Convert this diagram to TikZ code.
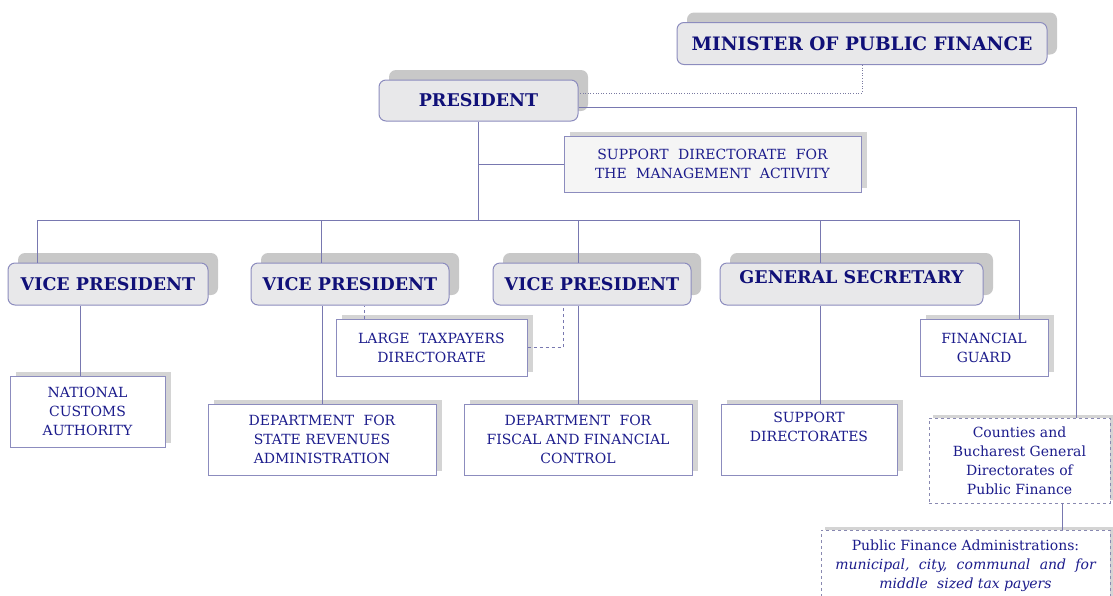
\documentclass[tikz,border=0pt]{standalone}
\usepackage{fontspec}
\setmainfont{DejaVu Serif}
\usetikzlibrary{shadows}
\definecolor{txtblue}{RGB}{28,28,140}
\definecolor{ttlblue}{RGB}{16,16,120}
\definecolor{bordercol}{RGB}{140,140,190}
\definecolor{linecol}{RGB}{120,120,176}
\definecolor{boxgray}{RGB}{232,232,234}
\definecolor{shadowgray}{RGB}{200,200,200}
\definecolor{shadowlight}{RGB}{212,212,212}
\newcommand{\ws}{\hspace{0.35em} }
\tikzset{
  x=1pt, y=-1pt,
  rbox/.style={draw=bordercol, line width=1pt, fill=boxgray, rounded corners=7pt,
    inner sep=0pt, text=ttlblue, font=\fontsize{17.5}{20}\selectfont\bfseries,
    drop shadow={shadow xshift=10pt, shadow yshift=10pt, fill=shadowgray, opacity=1}},
  sbox/.style={draw=bordercol, line width=1pt, fill=white, inner sep=0pt, align=center,
    text=txtblue, font=\fontsize{14}{19}\selectfont,
    drop shadow={shadow xshift=6pt, shadow yshift=4pt, fill=shadowlight, opacity=1}},
  dbox/.style={draw=bordercol!80!gray, line width=0.8pt, dashed, fill=white, inner sep=0pt, align=center,
    text=txtblue, font=\fontsize{14}{19}\selectfont,
    drop shadow={shadow xshift=4pt, shadow yshift=3pt, fill=shadowlight, opacity=1}},
  conn/.style={draw=linecol, line width=0.8pt},
  dconn/.style={draw=linecol, line width=0.8pt, dashed},
}
\begin{document}
\begin{tikzpicture}
\useasboundingbox (0,0) rectangle (1113,595);
% top level
\node[rbox, minimum width=370pt, minimum height=42pt, font=\fontsize{18.5}{20}\selectfont\bfseries] (min) at (862,43.5) {MINISTER OF PUBLIC FINANCE};
\node[rbox, minimum width=199pt, minimum height=41pt] (pres) at (478.5,100.5) {PRESIDENT};
\node[sbox, fill=black!4, minimum width=297pt, minimum height=56pt] (sdm) at (712.5,164) {SUPPORT\ws DIRECTORATE\ws FOR\\THE\ws MANAGEMENT\ws ACTIVITY};
% second level
\node[rbox, minimum width=200pt, minimum height=42pt] (vp1) at (108,284) {VICE PRESIDENT};
\node[rbox, minimum width=198pt, minimum height=42pt] (vp2) at (350,284) {VICE PRESIDENT};
\node[rbox, minimum width=198pt, minimum height=42pt] (vp3) at (592,284) {VICE PRESIDENT};
\node[rbox, minimum width=263pt, minimum height=42pt] (gs) at (851.5,284) {};
\node[text=ttlblue, font=\fontsize{17.5}{20}\selectfont\bfseries, inner sep=0pt] (gstext) at (851.5,277) {GENERAL SECRETARY};
% third level
\node[sbox, minimum width=155pt, minimum height=71pt] (nca) at (87.5,411.5) {NATIONAL\\CUSTOMS\\AUTHORITY};
\node[sbox, minimum width=191pt, minimum height=57pt] (ltd) at (431.5,347.5) {LARGE\ws TAXPAYERS\\DIRECTORATE};
\node[sbox, minimum width=228pt, minimum height=71pt] (dsr) at (322,439.5) {DEPARTMENT\ws FOR\\STATE REVENUES\\ADMINISTRATION};
\node[sbox, minimum width=228pt, minimum height=71pt] (dfc) at (578,439.5) {DEPARTMENT\ws FOR\\FISCAL AND FINANCIAL\\CONTROL};
\node[sbox, minimum width=176pt, minimum height=71pt] (sd) at (809,439.5) {SUPPORT\\DIRECTORATES\\\strut};
\node[sbox, minimum width=128pt, minimum height=57pt] (fg) at (984,347.5) {FINANCIAL\\GUARD};
\node[dbox, minimum width=181pt, minimum height=85pt] (cnt) at (1019.5,460.5) {Counties and\\Bucharest General\\Directorates of\\Public Finance};
\node[dbox, minimum width=289pt, minimum height=72pt] (pfa) at (965.5,566) {Public Finance Administrations:\\\itshape municipal,\ws city,\ws communal\ws and\ws for\\\itshape middle\ws sized tax payers};
% connectors
\coordinate (bus) at (0,220);
\draw[draw=linecol!70!gray, line width=0.6pt, dotted] (min.south) |- ([yshift=7.5pt]pres.east);
\draw[conn] ([yshift=-6.5pt]pres.east) -| ([xshift=56.5pt]cnt.north);
\draw[conn] (pres.south) -- (pres.south |- bus);
\draw[conn] (pres.south |- sdm.west) -- (sdm.west);
\coordinate (t1) at ([xshift=-71pt]vp1.north);
\coordinate (t2) at ([xshift=-29pt]vp2.north);
\coordinate (t3) at ([xshift=-14pt]vp3.north);
\coordinate (t4) at ([xshift=-31.5pt]gs.north);
\coordinate (t5) at ([xshift=35pt]fg.north);
\draw[conn] (t1) -- (t1 |- bus) -- (t5 |- bus) -- (t5);
\draw[conn] (t2 |- bus) -- (t2);
\draw[conn] (t3 |- bus) -- (t3);
\draw[conn] (t4 |- bus) -- (t4);
\draw[conn] ([xshift=-7.5pt]nca.north) -- ([xshift=-7.5pt]nca.north |- vp1.south);
\draw[conn] (dsr.north) -- (dsr.north |- vp2.south);
\draw[dconn] ([xshift=-67.5pt]ltd.north) -- ([xshift=-67.5pt]ltd.north |- vp2.south);
\draw[dconn] (ltd.east) -| ([xshift=-29pt]vp3.south);
\draw[conn] (dfc.north) -- (dfc.north |- vp3.south);
\draw[conn] ([xshift=11pt]sd.north) -- ([xshift=11pt]sd.north |- gs.south);
\draw[conn] ([xshift=42.5pt]cnt.south) -- ([xshift=42.5pt]cnt.south |- pfa.north);
\end{tikzpicture}
\end{document}
